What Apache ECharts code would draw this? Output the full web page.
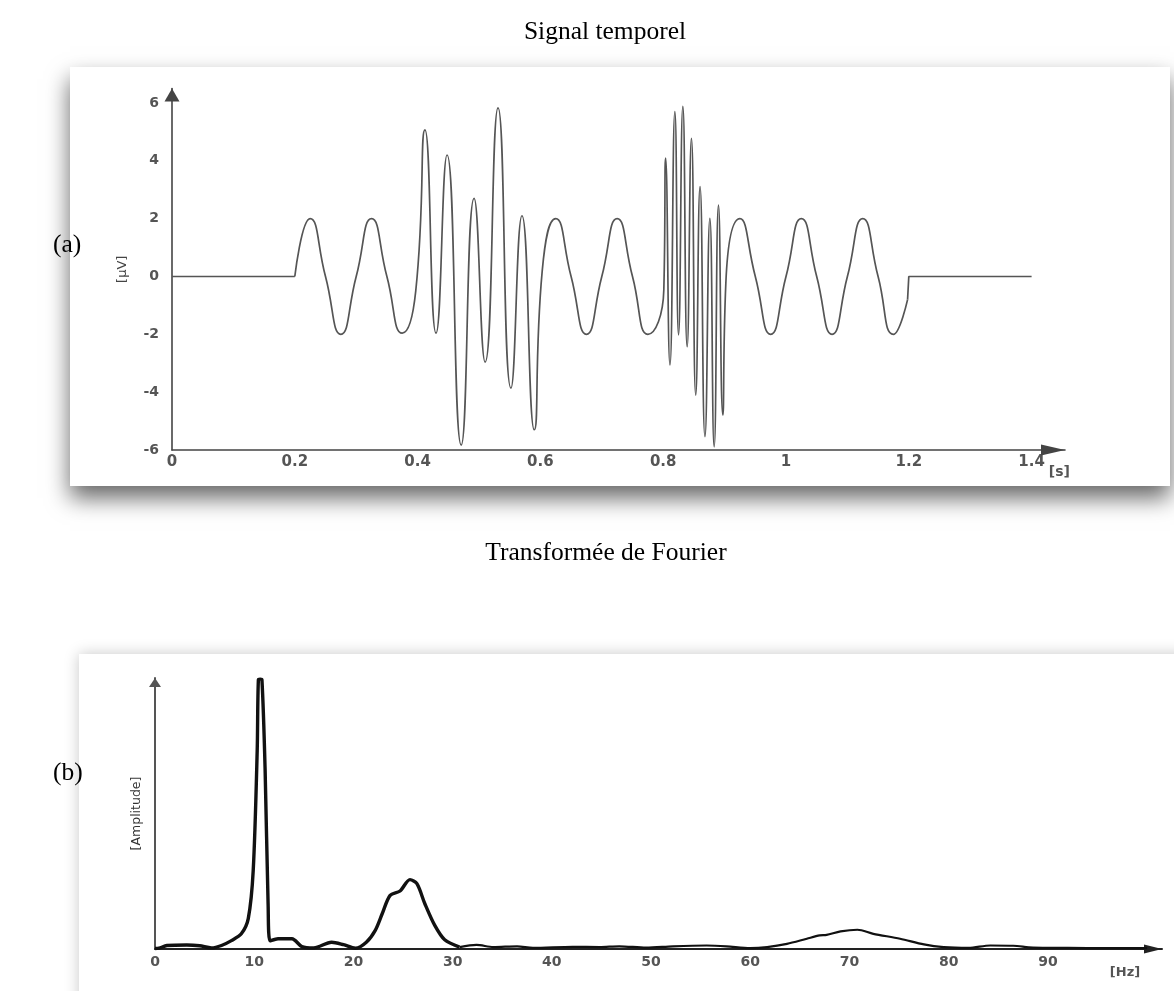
<!DOCTYPE html>
<html>
<head>
<meta charset="utf-8">
<script src="https://cdn.jsdelivr.net/npm/echarts@6/dist/echarts.min.js"></script>
<style>
html,body{margin:0;padding:0;background:#fff;}
#c{width:1174px;height:991px;}
</style>
</head>
<body>
<div id="c"></div>
<script>
// ---- Data: time signal (a) ----
const flatStartT = [0, 0.2];
const flatStartV = [0, 0];
const waveT = [0.2,0.225,0.25,0.275,0.3,0.325,0.35,0.375,0.397,
  0.412,0.430,0.448,0.471,0.492,0.510,0.531,0.552,0.570,0.590,0.603,
  0.625,0.65,0.675,0.7,0.725,0.75,0.775,0.801,
  0.804,0.811,0.819,0.825,0.832,0.839,0.846,0.853,0.860,0.868,0.876,0.883,0.890,0.897,0.902,
  0.925,0.95,0.975,1.0,1.025,1.05,1.075,1.1,1.125,1.15,1.175,1.198];
const waveV = [0,2,0,-2,0,2,0,-1.96,-0.5,
  5.07,-1.96,4.2,-5.83,2.7,-2.96,5.83,-3.86,2.1,-5.3,0.2,
  2,0,-2,0,2,0,-2,-0.47,
  4.09,-3.06,5.70,-2.02,5.88,-2.43,4.78,-4.1,3.11,-5.54,2.01,-5.89,2.47,-4.79,-0.24,
  2,0,-2,0,2,0,-2,0,2,0,-2,-0.8];
const flatEndT = [1.198, 1.2, 1.4];
const flatEndV = [-0.8, 0, 0];
const timeTicks = [0, 0.2, 0.4, 0.6, 0.8, 1, 1.2, 1.4];
const timeTickLabels = ['0', '0.2', '0.4', '0.6', '0.8', '1', '1.2', '1.4'];
const uvTicks = [-6, -4, -2, 0, 2, 4, 6];
const uvTickLabels = ['-6', '-4', '-2', '0', '2', '4', '6'];

// ---- Data: Fourier transform (b) ----
const fftF = [0,0.4,1.2,3.2,4.5,5.7,6.7,7.7,8.7,9.4,9.9,10.3,10.42,10.6,10.78,11.1,11.4,11.6,12.4,13.8,
  14.8,16,17.8,19,20.2,21.3,22.2,22.9,23.7,24.7,25.7,26.4,27.2,28.2,29.2,30.7,32.4,34.1,36.5,38.1,
  42.1,44.8,46.8,49.5,52.2,55.6,57.6,60,61.7,63.7,65.7,67,67.7,69.1,70.8,72.4,75.1,77.5,79.5,82,
  84.2,86.5,88.5,92,96,100];
const fftA = [0.2,0.3,1.3,1.5,1.2,0.4,1.3,3.1,5.6,11.2,29,73,99.3,99.6,99.3,66,16.7,3.0,3.8,3.8,
  0.9,0.4,2.5,1.6,0.3,2.5,6.9,13,19.8,21.4,25.6,24.1,16.7,8.7,3.4,0.7,1.5,0.7,1.0,0.4,
  0.8,0.7,1.0,0.5,1.0,1.3,1.0,0.3,0.7,1.9,3.8,5.0,5.2,6.5,7.1,5.6,3.8,1.7,0.7,0.4,
  1.3,1.2,0.5,0.4,0.3,0.3];
const hzTicks = [0, 10, 20, 30, 40, 50, 60, 70, 80, 90];
const hzTickLabels = ['0', '10', '20', '30', '40', '50', '60', '70', '80', '90'];

function zip(a, b) { return a.map((v, i) => [v, b[i]]); }
function labelFor(ticks, labels) {
  return function (v) {
    for (let i = 0; i < ticks.length; i++) {
      if (Math.abs(v - ticks[i]) < 1e-6) return labels[i];
    }
    return '';
  };
}
const fftPts = zip(fftF, fftA);
const splitIdx = fftF.indexOf(30.7);

const chart = echarts.init(document.getElementById('c'), null, {renderer: 'canvas'});
const serif = 'Liberation Serif, Times New Roman, serif';
const sans = 'DejaVu Sans, sans-serif';
const titleStyle = {fontFamily: serif, fontWeight: 'normal', fontSize: 25.5, color: '#000'};

chart.setOption({
  animation: false,
  backgroundColor: '#fff',
  title: [
    {text: 'Signal temporel', left: 600, top: 14, textAlign: 'center', textStyle: titleStyle},
    {text: 'Transformée de Fourier', left: 601, top: 535, textAlign: 'center', textStyle: titleStyle},
    {text: '(a)', left: 48, top: 227, textStyle: titleStyle},
    {text: '(b)', left: 48, top: 755, textStyle: titleStyle}
  ],
  graphic: [
    {type: 'rect', z: -10, shape: {x: 70, y: 67, width: 1100, height: 419},
     style: {fill: '#fff', shadowBlur: 22, shadowOffsetY: 12, shadowColor: 'rgba(0,0,0,0.6)'}},
    {type: 'rect', z: -10, shape: {x: 79, y: 654, width: 1110, height: 400},
     style: {fill: '#fff', shadowBlur: 14, shadowColor: 'rgba(0,0,0,0.22)'}}
  ],
  grid: [
    {left: 172, top: 88.5, width: 893, height: 361.5},
    {left: 155, top: 678, width: 1007, height: 271}
  ],
  xAxis: [
    {
      gridIndex: 0, type: 'value', min: 0, max: 1.4544, interval: 0.2,
      name: '[s]', nameLocation: 'end', nameGap: -13,
      nameTextStyle: {align: 'center', verticalAlign: 'top', padding: [15, 0, 0, 0],
        fontSize: 14, fontWeight: 'bold', color: '#555', fontFamily: sans},
      axisLine: {show: true, onZero: false, symbol: ['none', 'triangle'], symbolSize: [11, 24],
        symbolOffset: [0, -12], lineStyle: {color: '#444', width: 1.6}},
      axisTick: {show: false},
      splitLine: {show: false},
      axisLabel: {margin: 5, fontSize: 15, fontWeight: 'bold', color: '#555', fontFamily: sans,
        formatter: labelFor(timeTicks, timeTickLabels)}
    },
    {
      gridIndex: 1, type: 'value', min: 0, max: 101.5, interval: 10,
      name: '[Hz]', nameLocation: 'end', nameGap: -37,
      nameTextStyle: {align: 'center', verticalAlign: 'top', padding: [17, 0, 0, 0],
        fontSize: 13, fontWeight: 'bold', color: '#555', fontFamily: sans},
      axisLine: {show: true, onZero: false, symbol: ['none', 'triangle'], symbolSize: [9, 18],
        symbolOffset: [0, -9], lineStyle: {color: '#222', width: 2}},
      axisTick: {show: false},
      splitLine: {show: false},
      axisLabel: {margin: 6, fontSize: 14, fontWeight: 'bold', color: '#555', fontFamily: sans,
        formatter: labelFor(hzTicks, hzTickLabels)}
    }
  ],
  yAxis: [
    {
      gridIndex: 0, type: 'value', min: -6, max: 6.5, interval: 2,
      name: '[µV]', nameLocation: 'middle', nameGap: 43, nameRotate: 90,
      nameTextStyle: {fontSize: 13, color: '#444', fontFamily: sans},
      axisLine: {show: true, onZero: false, symbol: ['none', 'triangle'], symbolSize: [15, 13],
        symbolOffset: [0, -6.5], lineStyle: {color: '#444', width: 1.6}},
      axisTick: {show: false},
      splitLine: {show: false},
      axisLabel: {margin: 13, fontSize: 14, fontWeight: 'bold', color: '#555', fontFamily: sans,
        formatter: labelFor(uvTicks, uvTickLabels)}
    },
    {
      gridIndex: 1, type: 'value', min: 0, max: 100,
      name: '[Amplitude]', nameLocation: 'middle', nameGap: 12, nameRotate: 90,
      nameTextStyle: {fontSize: 12.5, color: '#333', fontFamily: sans},
      axisLine: {show: true, onZero: false, symbol: ['none', 'triangle'], symbolSize: [12, 9],
        symbolOffset: [0, -4.5], lineStyle: {color: '#555', width: 2}},
      axisTick: {show: false},
      splitLine: {show: false},
      axisLabel: {show: false}
    }
  ],
  series: [
    {type: 'line', xAxisIndex: 0, yAxisIndex: 0, data: zip(flatStartT, flatStartV),
     showSymbol: false, lineStyle: {color: '#555', width: 1.7}},
    {type: 'line', xAxisIndex: 0, yAxisIndex: 0, data: zip(waveT, waveV), smooth: 0.55,
     showSymbol: false, lineStyle: {color: '#555', width: 1.7}},
    {type: 'line', xAxisIndex: 0, yAxisIndex: 0, data: zip(flatEndT, flatEndV),
     showSymbol: false, lineStyle: {color: '#555', width: 1.7}},
    {type: 'line', xAxisIndex: 1, yAxisIndex: 1, data: fftPts.slice(0, splitIdx + 1), smooth: 0.3,
     showSymbol: false, lineStyle: {color: '#111', width: 3.4}},
    {type: 'line', xAxisIndex: 1, yAxisIndex: 1, data: fftPts.slice(splitIdx), smooth: 0.3,
     showSymbol: false, lineStyle: {color: '#111', width: 2.2}}
  ]
});
</script>
</body>
</html>
